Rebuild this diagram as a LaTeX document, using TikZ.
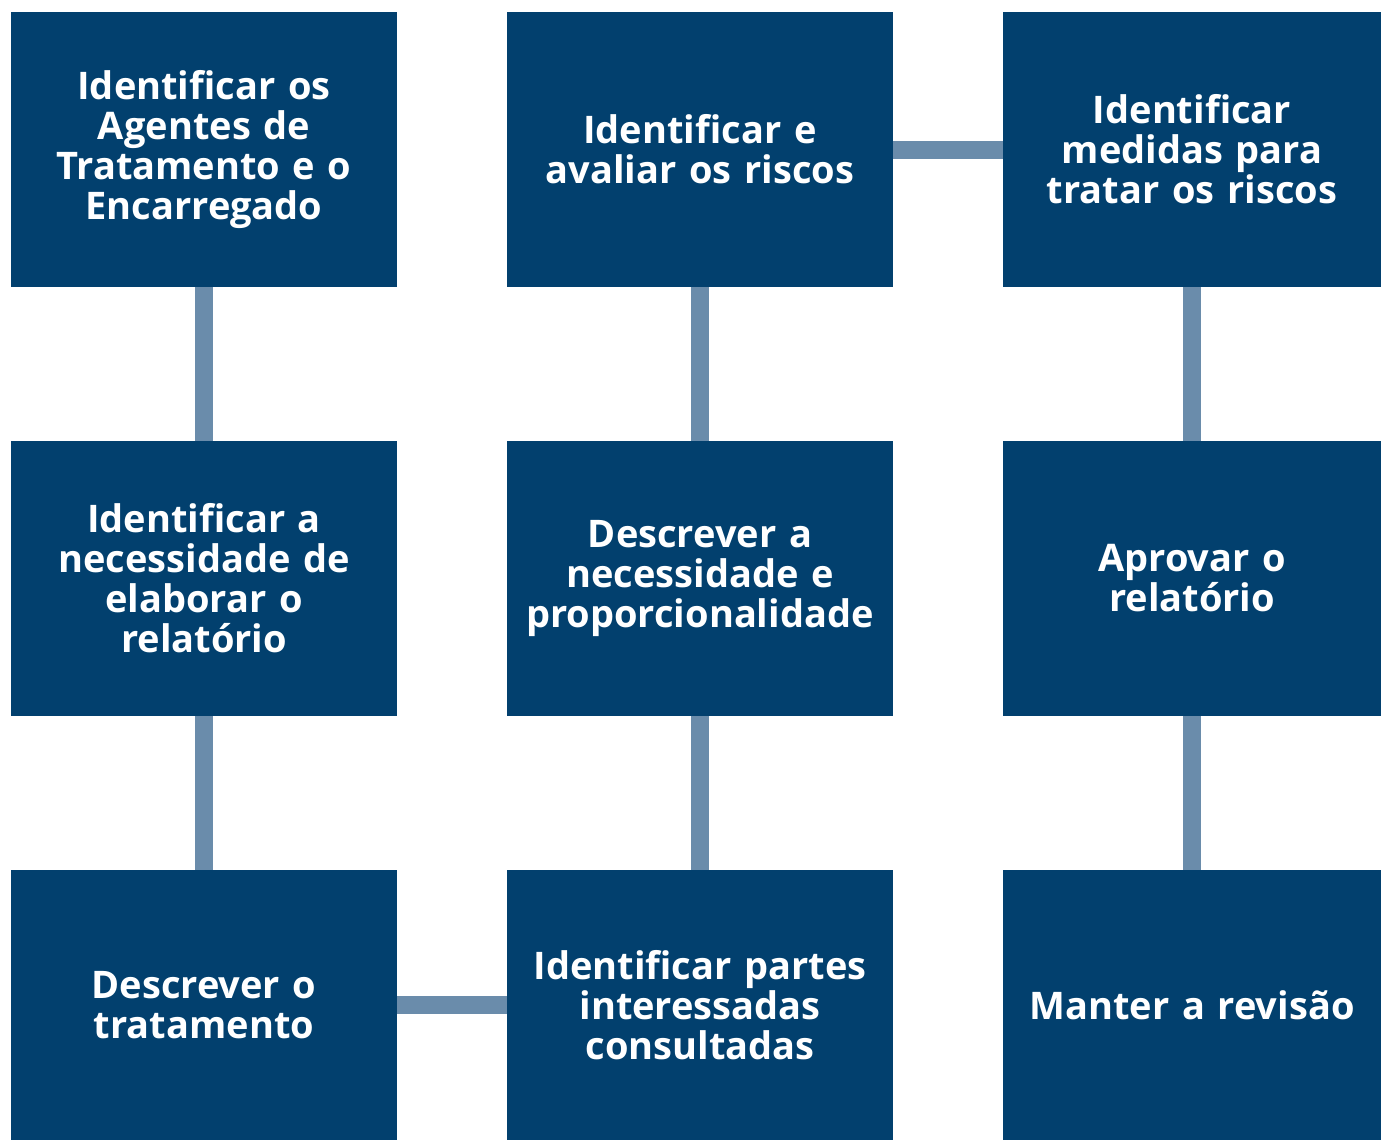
\documentclass[tikz,border=0pt]{standalone}
\usepackage{fontspec}
\setmainfont{Open Sans}
\usepackage{tikz}
\usepackage{xcolor}
\usetikzlibrary{positioning}

\definecolor{boxblue}{HTML}{02406E}
\definecolor{linkblue}{HTML}{6A8CAB}

\begin{document}
\begin{tikzpicture}[x=1pt, y=-1pt,
    stepbox/.style={fill=boxblue, text=white, inner sep=0pt, minimum width=386pt, minimum height=275pt,
        text width=376pt, align=center, font=\fontsize{38}{40}\selectfont\bfseries},
    link/.style={draw=linkblue, line width=18pt}]
                        \useasboundingbox (0,0) rectangle (1381,1140);
                        % First row
                        \node[stepbox] (A) at (204,149.5) {Identificar os\\Agentes de\\Tratamento e o\\Encarregado};
                        \node[stepbox] (B) at (700,149.5) {Identificar e\\avaliar os riscos};
                        \node[stepbox, minimum width=378pt, text width=368pt] (C) at (1192,149.5) {Identificar\\medidas para\\tratar os riscos};
                        % Second row
                        \node[stepbox] (D) at (204,578.5) {Identificar a\\necessidade de\\elaborar o\\relatório};
                        \node[stepbox] (E) at (700,578.5) {Descrever a\\necessidade e\\proporcionalidade};
                        \node[stepbox, minimum width=378pt, text width=368pt] (F) at (1192,578.5) {Aprovar o\\relatório};
                        % Third row
                        \node[stepbox, minimum height=270pt] (G) at (204,1005) {Descrever o\\tratamento};
                        \node[stepbox, minimum height=270pt] (H) at (700,1005) {Identificar partes\\interessadas\\consultadas};
                        \node[stepbox, minimum width=378pt, text width=368pt, minimum height=270pt] (I) at (1192,1005) {Manter a revisão};

                        % Links between the steps
                        \draw[link] (A) -- (D);
                        \draw[link] (D) -- (G);
                        \draw[link] (G) -- (H);
                        \draw[link] (H) -- (E);
                        \draw[link] (E) -- (B);
                        \draw[link] (B) -- (C);
                        \draw[link] (C) -- (F);
                        \draw[link] (F) -- (I);
                    \end{tikzpicture}
\end{document}
